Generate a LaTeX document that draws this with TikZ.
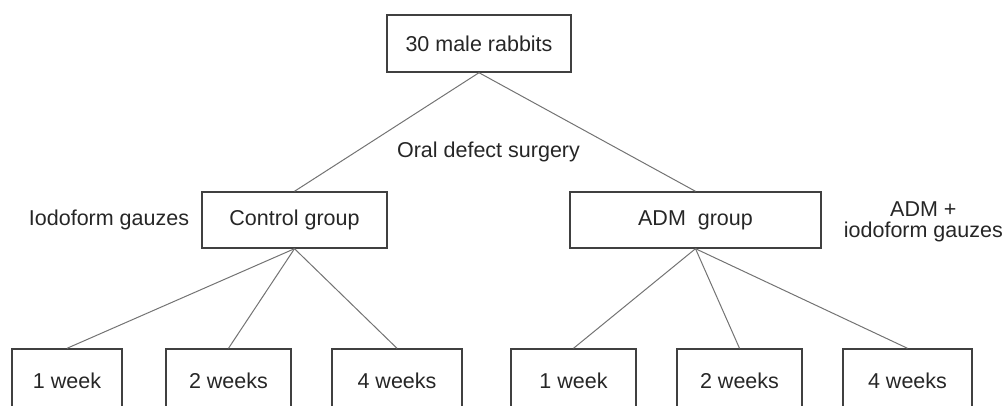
\documentclass[tikz,border=0pt]{standalone}
\usepackage{fontspec}
\setmainfont{Liberation Sans}
\usetikzlibrary{positioning}

\begin{document}
\begin{tikzpicture}[x=1pt,y=-1pt,
  box/.style={draw=black!75, line width=1.4pt, inner sep=0pt, text=black!85},
  link/.style={draw=black!55, line width=1pt},
  lbl/.style={inner sep=0pt, text=black!85, align=center}]
\useasboundingbox (0,0) rectangle (1002,405);
\clip (0,0) rectangle (1002,405);
\fontsize{21.5}{20.5}\selectfont
% top of the tree
\node [box, minimum width=184pt, minimum height=57pt] (rabbits) at (479,43.5) {30 male rabbits};
\node [lbl] (surgery) at (488.5,152) {Oral defect surgery};
% the two groups
\node [box, minimum width=185pt, minimum height=56pt] (ctrl) at (294.5,220) {Control group};
\node [box, minimum width=251pt, minimum height=56pt] (adm) at (695.5,220) {ADM\ \ group};
\node [lbl, left=12pt of ctrl] (ctrlnote) {Iodoform gauzes};
\node [lbl, right=22pt of adm, yshift=-2pt] (admnote) {ADM +\\iodoform gauzes};
% time points
\node [box, minimum width=110pt, minimum height=64pt] (c1) at (67,381) {1 week};
\node [box, minimum width=125pt, minimum height=64pt] (c2) at (228.5,381) {2 weeks};
\node [box, minimum width=130pt, minimum height=64pt] (c4) at (397,381) {4 weeks};
\node [box, minimum width=125pt, minimum height=64pt] (a1) at (573.5,381) {1 week};
\node [box, minimum width=125pt, minimum height=64pt] (a2) at (739.5,381) {2 weeks};
\node [box, minimum width=129pt, minimum height=64pt] (a4) at (907.5,381) {4 weeks};
% links
\draw [link] (rabbits.south) -- (ctrl.north);
\draw [link] (rabbits.south) -- (adm.north);
\foreach \t in {c1,c2,c4}
  \draw [link] (ctrl.south) -- (\t.north);
\foreach \t in {a1,a2,a4}
  \draw [link] (adm.south) -- (\t.north);
\end{tikzpicture}
\end{document}
